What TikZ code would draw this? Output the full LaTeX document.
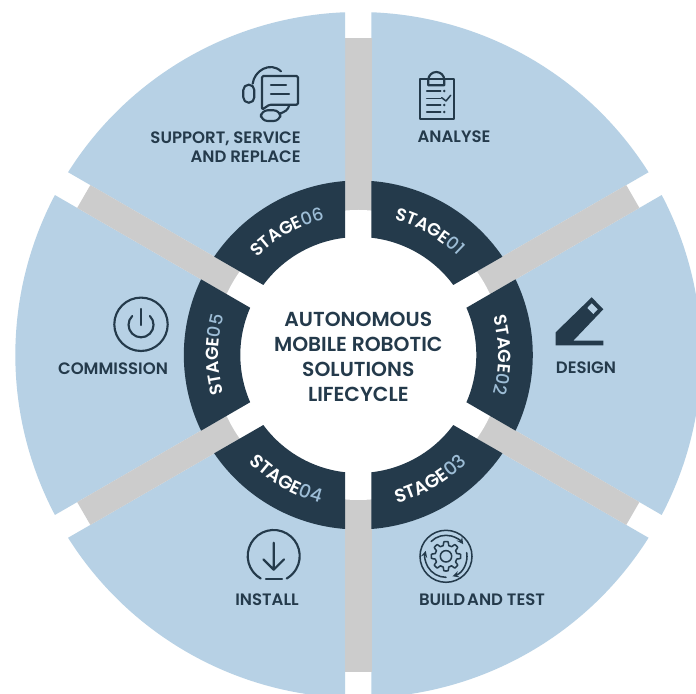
\documentclass[tikz,border=0pt]{standalone}
\usepackage{fontspec}
\setmainfont{Poppins}[BoldFont={Poppins SemiBold}]
\newfontfamily\numfont{Poppins Medium}
\usetikzlibrary{decorations.text}
\definecolor{wedgeblue}{HTML}{B7D1E5}
\definecolor{ringdark}{HTML}{243A4B}
\definecolor{spokegray}{HTML}{CCCCCC}
\definecolor{numblue}{HTML}{9DBDD6}
\tikzset{
  label/.style={text=ringdark,font=\bfseries\fontsize{12.4}{14.5}\selectfont,inner sep=0pt},
  icon/.style={draw=ringdark,line width=1.6pt,line cap=round,line join=round},
  iconthin/.style={draw=ringdark,line width=1.15pt,line cap=round,line join=round},
  hubtext/.style={text=ringdark,font=\bfseries\fontsize{15.2}{18.75}\selectfont,align=center,inner sep=0pt},
  stagetext/.style={decorate,decoration={text along path,text align=center,
     text={|\bfseries\fontsize{13.2}{15}\selectfont\color{white}|STAGE|\numfont\fontsize{13.2}{15}\selectfont\color{numblue}|#1}}},
  stagetextlow/.style={decorate,decoration={text along path,text align=center,
     text={|\bfseries\fontsize{13.9}{15}\selectfont\color{white}|STAGE|\numfont\fontsize{13.9}{15}\selectfont\color{numblue}|#1}}}
}
\newcommand{\pu}{0.75pt}
\begin{document}
\begin{tikzpicture}[x=0.75pt,y=0.75pt]
\useasboundingbox (0,0) rectangle (696,693);
\clip (0,0) rectangle (696,693);
\fill[white] (0,0) rectangle (696,693);
\begin{scope}[shift={(358.3,338)}]
  % blue sectors and gray spokes
  \foreach \a in {90,30,-30,-90,-150,150}{
    \pgfmathsetmacro{\b}{\a-60}
    \fill[wedgeblue] (\a-2.2:343) arc[start angle=\a-2.2,end angle=\b+2.2,radius=343*\pu]
       -- (\b+4.73:160) -- (\a-4.73:160) -- cycle;
    \fill[spokegray,rotate=\a] (0,-13.2) rectangle (317,13.2);
  }
  \fill[white] (0,0) circle[radius=145*\pu];
  % dark ring
  \foreach \a in {90,30,-30,-90,-150,150}{
    \pgfmathsetmacro{\b}{\a-60}
    \fill[ringdark] (\a-4.3:174.5) arc[start angle=\a-4.3,end angle=\b+4.3,radius=174.5*\pu]
       -- (\b+6.4:118) arc[start angle=\b+6.4,end angle=\a-6.4,radius=118*\pu] -- cycle;
  }
  % ring texts
  \path[stagetext=01] (85:140) arc[start angle=85,end angle=35,radius=140*\pu];
  \path[stagetext=02] (25:140) arc[start angle=25,end angle=-25,radius=140*\pu];
  \path[stagetextlow=03] (-89:153) arc[start angle=-89,end angle=-31,radius=153*\pu];
  \path[stagetextlow=04] (-149:153) arc[start angle=-149,end angle=-91,radius=153*\pu];
  \path[stagetext=05] (-155:140) arc[start angle=-155,end angle=-205,radius=140*\pu];
  \path[stagetext=06] (145:140) arc[start angle=145,end angle=95,radius=140*\pu];
\end{scope}

\node[hubtext] (hub) at (358.3,336.5) {AUTONOMOUS\\MOBILE ROBOTIC\\SOLUTIONS\\LIFECYCLE};

\node[label] (analyse) at (454,556) {ANALYSE};
\node[label,align=right,anchor=east] (support) at (301,545.5) {SUPPORT, SERVICE\\AND REPLACE};
\node[label] (design) at (586,325) {DESIGN};
\node[label] (buildtest) at (482,93) {BUILD\hspace{-1.5pt} AND TEST};
\node[label] (install) at (267,93) {INSTALL};
\node[label] (commission) at (113,324) {COMMISSION};

% support icon (px coords: X, 693-Y)
\draw[icon,rounded corners=1pt] (262,617) -- (298,617) -- (298,588.3) -- (269.5,588.3) -- (262,583.3) -- cycle;
\draw[icon] (271,608.3) -- (286,608.3) (271,599.3) -- (289,599.3);
\draw[icon] (252.7,609.3) .. controls (254,622) and (270,632) .. (281,621.7);
\draw[icon,rounded corners=4pt] (243.3,608.3) -- (254.3,608.3) -- (254.3,590.3) -- (243.3,590.3) -- cycle;
\draw[icon] (289.3,587.7) .. controls (288,583) and (285,581) .. (279.3,579.3);
\draw[icon,rounded corners=5pt] (261,582.7) rectangle (280.3,572);

% clipboard icon
\draw[icon] (420,613.7) rectangle (454,574.3);
\draw[icon] (428.3,607.7) -- (428.3,613) arc[start angle=180,end angle=0,radius=8*\pu] -- (444.3,607.7) -- cycle;
\foreach \y in {602,594.7,588,581}{\draw[iconthin] (426.7,\y) -- (440.7,\y);}
\foreach \y in {602,588,581}{\fill[ringdark] (444.3,\y) circle[radius=1.4*\pu];}
\draw[iconthin] (441.7,595.3) -- (446,592) -- (450.7,597.7);

% power icon
\draw[icon] (141,368.7) circle[radius=26.7*\pu];
\draw[icon] (132.2,377) arc[start angle=135,end angle=405,radius=12.5*\pu];
\draw[icon] (141,384) -- (141,368);

% design icon
\fill[ringdark] (555.7,360.7) -- (591.7,395.7) -- (603.3,383.7)
   -- (573.3,352.3) -- (603.3,352.3) -- (603.3,347.7) -- (555.7,347.7) -- cycle;
\fill[wedgeblue] (591.7,389.7) -- (597.7,383.7) -- (593.3,379) -- (587.3,385) -- cycle;

% install icon
\draw[icon] (260.7,114.5) arc[start angle=240,end angle=-60,radius=26*\pu];
\draw[icon] (266,114) -- (282,114);
\draw[icon] (273.7,150.3) -- (273.7,123.3) (263.3,133.7) -- (273.7,123.3) -- (284,133.7);

% build icon
\begin{scope}[shift={(446,136.7)}]
  \draw[iconthin] (0,0) circle[radius=26*\pu];
  \draw[iconthin] (0,0) circle[radius=5.7*\pu];
  \draw[iconthin] plot[samples=145,domain=0:360] (\x:{min(14.7,max(11,12.85+5*cos(8*\x)))}) -- cycle;
  \draw[iconthin,-stealth] (135:21) arc[start angle=135,end angle=35,radius=21*\pu];
  \draw[iconthin,-stealth] (10:21) arc[start angle=10,end angle=-72,radius=21*\pu];
  \draw[iconthin,-stealth] (-90:21) arc[start angle=-90,end angle=-195,radius=21*\pu];
\end{scope}
\end{tikzpicture}
\end{document}
